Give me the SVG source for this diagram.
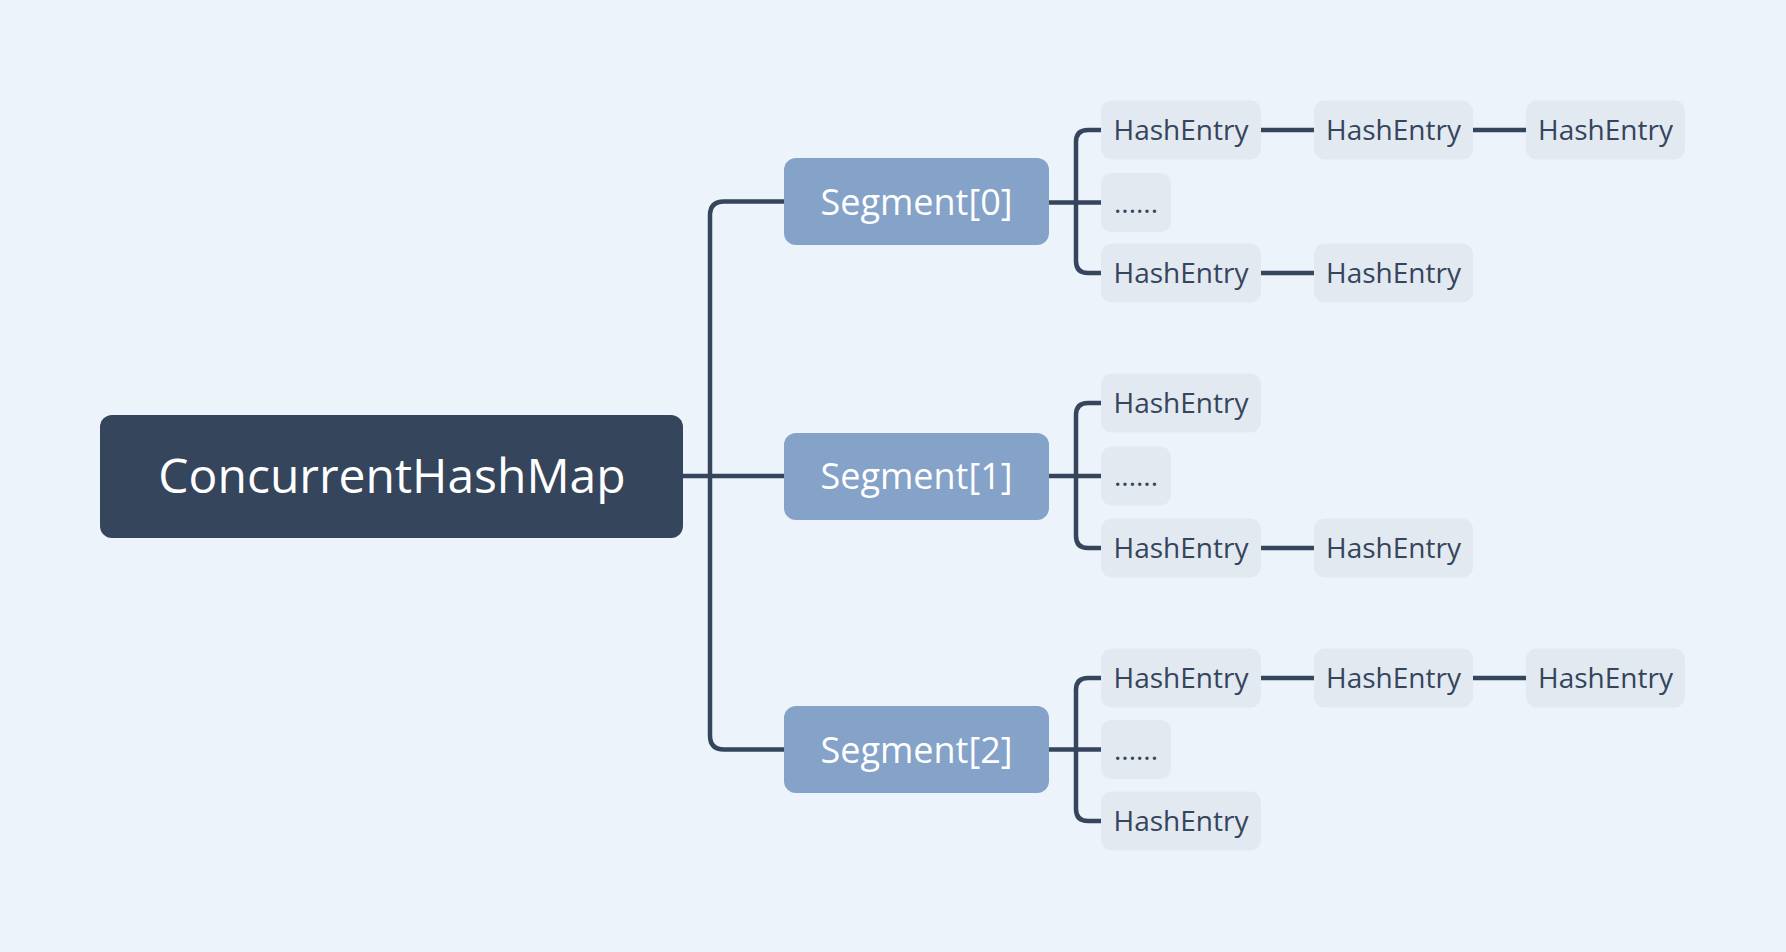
<svg xmlns="http://www.w3.org/2000/svg" width="1786" height="952" viewBox="0 0 1786 952">
<style>
.bg{fill:#edf3fa}
.root{fill:#35455c}
.seg{fill:#85a2c8}
.ent{fill:#e2e9f1}
.t{font-family:"Open Sans","Noto Sans","Liberation Sans",sans-serif;text-anchor:middle}
.rt{font-size:48px;fill:#ffffff}
.st{font-size:36px;font-weight:500;fill:#ffffff}
.et{font-size:28px;fill:#35455c}
.c{fill:none;stroke:#35455c;stroke-width:4.5;stroke-linecap:butt}
</style>
<rect class="bg" x="0" y="0" width="1786" height="952"/>
<g id="connectors">
<path class="c" d="M683 476 H784"/>
<path class="c" d="M784 201.5 H724 Q710 201.5 710 215.5 V735.5 Q710 749.5 724 749.5 H784"/>
<path class="c" d="M1049 202.5 H1101"/>
<path class="c" d="M1101 130 H1088 Q1076 130 1076 142 V261 Q1076 273 1088 273 H1101"/>
<path class="c" d="M1261 130 H1314"/>
<path class="c" d="M1473 130 H1526"/>
<path class="c" d="M1261 273 H1314"/>
<path class="c" d="M1049 476 H1101"/>
<path class="c" d="M1101 403 H1088 Q1076 403 1076 415 V536 Q1076 548 1088 548 H1101"/>
<path class="c" d="M1261 548 H1314"/>
<path class="c" d="M1049 749.5 H1101"/>
<path class="c" d="M1101 678 H1088 Q1076 678 1076 690 V809 Q1076 821 1088 821 H1101"/>
<path class="c" d="M1261 678 H1314"/>
<path class="c" d="M1473 678 H1526"/>
</g>
<g id="root">
<rect class="root" x="100" y="415" width="583" height="123" rx="12"/>
<text class="t rt" x="392" y="493">ConcurrentHashMap</text>
</g>
<g id="seg0">
<rect class="seg" x="784" y="158" width="265" height="87" rx="12"/>
<text class="t st" x="916.5" y="214.5">Segment[0]</text>
</g>
<g id="seg1">
<rect class="seg" x="784" y="433" width="265" height="87" rx="12"/>
<text class="t st" x="916.5" y="489">Segment[1]</text>
</g>
<g id="seg2">
<rect class="seg" x="784" y="706" width="265" height="87" rx="12"/>
<text class="t st" x="916.5" y="762.5">Segment[2]</text>
</g>
<g id="s0e0"><rect class="ent" x="1101" y="100.5" width="160" height="59" rx="11"/><text class="t et" x="1181" y="140">HashEntry</text></g>
<g id="s0e0b"><rect class="ent" x="1314" y="100.5" width="159" height="59" rx="11"/><text class="t et" x="1393.5" y="140">HashEntry</text></g>
<g id="s0e0c"><rect class="ent" x="1526" y="100.5" width="159" height="59" rx="11"/><text class="t et" x="1605.5" y="140">HashEntry</text></g>
<g id="s0d"><rect class="ent" x="1101" y="173" width="70" height="59" rx="11"/><text class="t et" x="1136" y="212.5">......</text></g>
<g id="s0e2"><rect class="ent" x="1101" y="243.5" width="160" height="59" rx="11"/><text class="t et" x="1181" y="283">HashEntry</text></g>
<g id="s0e2b"><rect class="ent" x="1314" y="243.5" width="159" height="59" rx="11"/><text class="t et" x="1393.5" y="283">HashEntry</text></g>
<g id="s1e0"><rect class="ent" x="1101" y="373.5" width="160" height="59" rx="11"/><text class="t et" x="1181" y="413">HashEntry</text></g>
<g id="s1d"><rect class="ent" x="1101" y="446.5" width="70" height="59" rx="11"/><text class="t et" x="1136" y="486">......</text></g>
<g id="s1e2"><rect class="ent" x="1101" y="518.5" width="160" height="59" rx="11"/><text class="t et" x="1181" y="558">HashEntry</text></g>
<g id="s1e2b"><rect class="ent" x="1314" y="518.5" width="159" height="59" rx="11"/><text class="t et" x="1393.5" y="558">HashEntry</text></g>
<g id="s2e0"><rect class="ent" x="1101" y="648.5" width="160" height="59" rx="11"/><text class="t et" x="1181" y="688">HashEntry</text></g>
<g id="s2e0b"><rect class="ent" x="1314" y="648.5" width="159" height="59" rx="11"/><text class="t et" x="1393.5" y="688">HashEntry</text></g>
<g id="s2e0c"><rect class="ent" x="1526" y="648.5" width="159" height="59" rx="11"/><text class="t et" x="1605.5" y="688">HashEntry</text></g>
<g id="s2d"><rect class="ent" x="1101" y="720" width="70" height="59" rx="11"/><text class="t et" x="1136" y="759.5">......</text></g>
<g id="s2e2"><rect class="ent" x="1101" y="791.5" width="160" height="59" rx="11"/><text class="t et" x="1181" y="831">HashEntry</text></g>
</svg>
